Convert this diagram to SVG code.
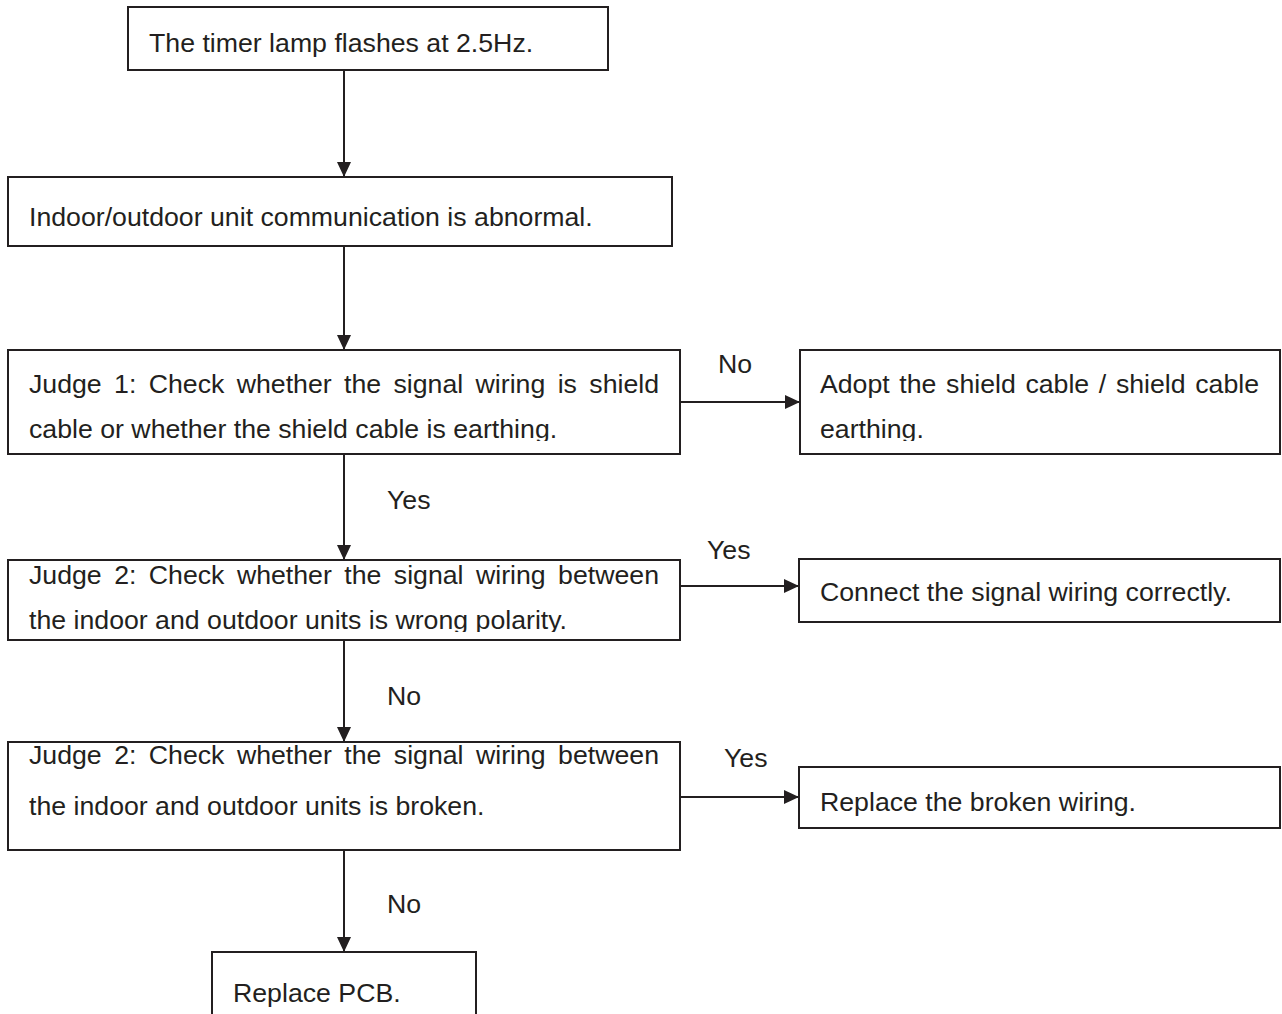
<svg xmlns="http://www.w3.org/2000/svg" width="1282" height="1014" viewBox="0 0 1282 1014">
<style>
.box{fill:#fff;stroke:#231f20;stroke-width:2}
.t{font-family:"Liberation Sans",Arial,sans-serif;font-size:26.7px;fill:#231f20}
.ln{stroke:#231f20;stroke-width:2;fill:none;marker-end:url(#ah)}
</style>
<defs>
<marker id="ah" markerUnits="userSpaceOnUse" markerWidth="15" markerHeight="14" refX="15" refY="7" orient="auto" viewBox="0 0 15 14"><path d="M0,0 L15,7 L0,14 Z" fill="#231f20"/></marker>
<clipPath id="c3"><rect x="8" y="350" width="672" height="91"/></clipPath>
<clipPath id="c4"><rect x="800" y="350" width="480" height="91"/></clipPath>
<clipPath id="c5"><rect x="8" y="560" width="672" height="72"/></clipPath>
</defs>
<rect width="1282" height="1014" fill="#fff"/>
<g id="connectors">
<path class="ln" d="M344,70 V177"/>
<path class="ln" d="M344,246 V350"/>
<path class="ln" d="M344,454 V560"/>
<path class="ln" d="M344,640 V742"/>
<path class="ln" d="M344,850 V952"/>
<path class="ln" d="M680,402 H800"/>
<path class="ln" d="M680,586 H799"/>
<path class="ln" d="M680,797 H799"/>
<text class="t" x="718" y="373">No</text>
<text class="t" x="387" y="509">Yes</text>
<text class="t" x="707" y="559">Yes</text>
<text class="t" x="387" y="705">No</text>
<text class="t" x="724" y="767">Yes</text>
<text class="t" x="387" y="913">No</text>
</g>
<g id="n1">
<rect class="box" x="128" y="7" width="480" height="63"/>
<text class="t" x="149" y="52">The timer lamp flashes at 2.5Hz.</text>
</g>
<g id="n2">
<rect class="box" x="8" y="177" width="664" height="69"/>
<text class="t" x="29" y="226">Indoor/outdoor unit communication is abnormal.</text>
</g>
<g id="n3">
<rect class="box" x="8" y="350" width="672" height="104"/>
<text class="t" x="29" y="393" word-spacing="5" textLength="630" lengthAdjust="spacing">Judge 1: Check whether the signal wiring is shield</text>
<text class="t" x="29" y="438" clip-path="url(#c3)">cable or whether the shield cable is earthing.</text>
</g>
<g id="n4">
<rect class="box" x="800" y="350" width="480" height="104"/>
<text class="t" x="820" y="393" word-spacing="2.3" textLength="439" lengthAdjust="spacing">Adopt the shield cable / shield cable</text>
<text class="t" x="820" y="438" clip-path="url(#c4)">earthing.</text>
</g>
<g id="n5">
<rect class="box" x="8" y="560" width="672" height="80"/>
<text class="t" x="29" y="584" word-spacing="5" textLength="630" lengthAdjust="spacing">Judge 2: Check whether the signal wiring between</text>
<text class="t" x="29" y="629" clip-path="url(#c5)">the indoor and outdoor units is wrong polarity.</text>
</g>
<g id="n6">
<rect class="box" x="799" y="559" width="481" height="63"/>
<text class="t" x="820" y="601">Connect the signal wiring correctly.</text>
</g>
<g id="n7">
<rect class="box" x="8" y="742" width="672" height="108"/>
<text class="t" x="29" y="764" word-spacing="5" textLength="630" lengthAdjust="spacing">Judge 2: Check whether the signal wiring between</text>
<text class="t" x="29" y="815">the indoor and outdoor units is broken.</text>
</g>
<g id="n8">
<rect class="box" x="799" y="767" width="481" height="61"/>
<text class="t" x="820" y="811">Replace the broken wiring.</text>
</g>
<g id="n9">
<rect class="box" x="212" y="952" width="264" height="90"/>
<text class="t" x="233" y="1002">Replace PCB.</text>
</g>
</svg>
